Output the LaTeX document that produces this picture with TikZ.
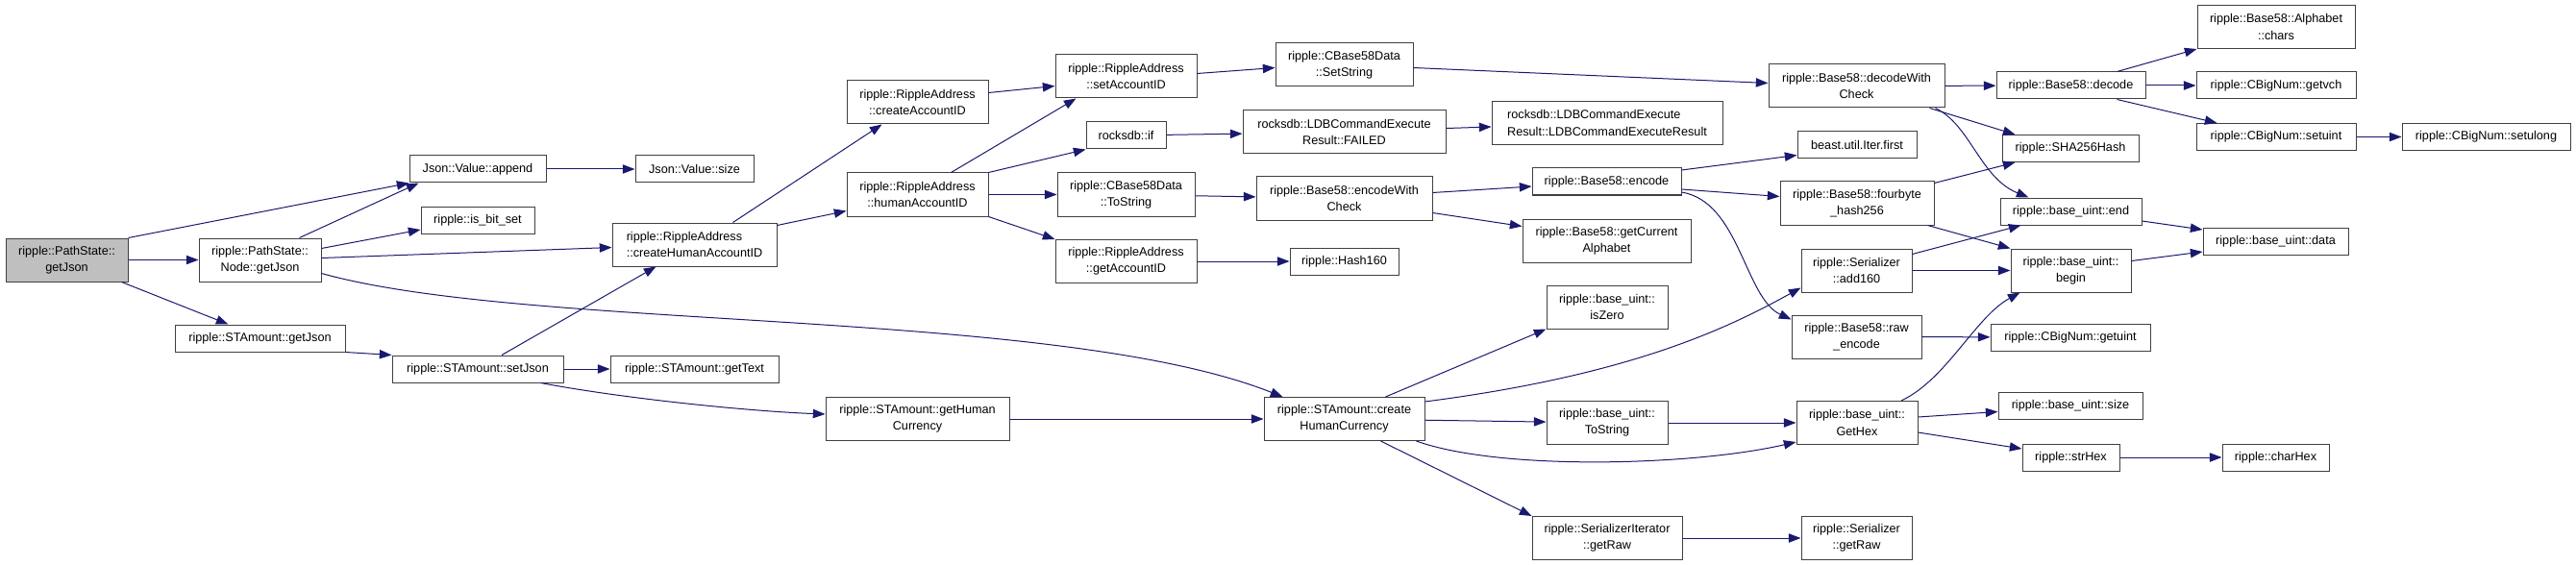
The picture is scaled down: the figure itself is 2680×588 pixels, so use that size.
\documentclass[tikz,border=0pt]{standalone}
\usepackage{fontspec}
\setmainfont{Liberation Sans}
\usetikzlibrary{arrows.meta,calc}
\definecolor{edgeblue}{HTML}{191970}
\definecolor{boxline}{HTML}{404040}
\definecolor{rootfill}{HTML}{BFBFBF}

\begin{document}
\begin{tikzpicture}[
        x=0.75pt, y=-0.75pt,
        fn/.style={draw=boxline, line width=0.75pt, fill=white, inner sep=0pt, align=center,
          font=\fontsize{9.5pt}{13pt}\selectfont, minimum height=28*0.75pt},
        fntwo/.style={fn, minimum height=45*0.75pt},
        wd/.style={minimum width=#1*0.75pt},
        arrow/.style={-{Triangle[length=9.5pt,width=7pt]}, line width=0.75pt, draw=edgeblue}
      ]
        \useasboundingbox (0,0) rectangle (2680,588);
        \node[fntwo, wd=127, fill=rootfill] (root) at (69.5,270.5) {ripple::PathState::\\getJson};
        \node[fntwo, wd=127] (ngj)      at (270.5,270.5) {ripple::PathState::\\Node::getJson};
        \node[fn, wd=177]    (sgj)      at (270.5,352)   {ripple::STAmount::getJson};
        \node[fn, wd=142]    (append)   at (497,176)     {Json::Value::append};
        \node[fn, wd=118]    (isbit)    at (497,229)     {ripple::is\_bit\_set};
        \node[fn, wd=178]    (setjson)  at (497,384)     {ripple::STAmount::setJson};
        \node[fn, wd=123]    (jsize)    at (722.5,176)   {Json::Value::size};
        \node[fntwo, wd=171, align=left] (chaid) at (722.5,254.5) {ripple::RippleAddress\\::createHumanAccountID};
        \node[fn, wd=175]    (gettext)  at (722.5,384)   {ripple::STAmount::getText};
        \node[fntwo, wd=191] (ghc)      at (954.5,436)   {ripple::STAmount::getHuman\\Currency};
        \node[fntwo, wd=147] (cai)      at (954.5,106.5) {ripple::RippleAddress\\::createAccountID};
        \node[fntwo, wd=147] (hai)      at (954.5,202.5) {ripple::RippleAddress\\::humanAccountID};
        \node[fntwo, wd=147] (setaid)   at (1171.5,79.5) {ripple::RippleAddress\\::setAccountID};
        \node[fn, wd=83]     (rif)      at (1171.5,141)  {rocksdb::if};
        \node[fntwo, wd=143] (b58tostr) at (1171.5,202.5) {ripple::CBase58Data\\::ToString};
        \node[fntwo, wd=147] (getaid)   at (1171.5,272)  {ripple::RippleAddress\\::getAccountID};
        \node[fntwo, wd=143] (setstr)   at (1398.5,67.5) {ripple::CBase58Data\\::SetString};
        \node[fntwo, wd=211] (failed)   at (1398.5,137.5) {rocksdb::LDBCommandExecute\\Result::FAILED};
        \node[fntwo, wd=183] (ewc)      at (1398.5,206.5) {ripple::Base58::encodeWith\\Check};
        \node[fn, wd=113]    (h160)     at (1398.5,272)  {ripple::Hash160};
        \node[fntwo, wd=167] (chc)      at (1398.5,436)  {ripple::STAmount::create\\HumanCurrency};
        \node[fntwo, wd=240, align=left] (ldbres) at (1672,128) {rocksdb::LDBCommandExecute\\Result::LDBCommandExecuteResult};
        \node[fn, wd=155]    (enc)      at (1671.5,189)  {ripple::Base58::encode};
        \node[fntwo, wd=175] (gca)      at (1671.5,250.5) {ripple::Base58::getCurrent\\Alphabet};
        \node[fntwo, wd=126] (iszero)   at (1672,319.5)  {ripple::base\_uint::\\isZero};
        \node[fntwo, wd=126] (butostr)  at (1672,440)    {ripple::base\_uint::\\ToString};
        \node[fntwo, wd=156] (sitraw)   at (1672,560)    {ripple::SerializerIterator\\::getRaw};
        \node[fntwo, wd=183] (dwc)      at (1931.5,89.5) {ripple::Base58::decodeWith\\Check};
        \node[fn, wd=124]    (iterfirst) at (1932,150.5) {beast.util.Iter.first};
        \node[fntwo, wd=160] (fourbyte) at (1932,211.5)  {ripple::Base58::fourbyte\\\_hash256};
        \node[fntwo, wd=115] (add160)   at (1931.5,281.5) {ripple::Serializer\\::add160};
        \node[fntwo, wd=135] (rawenc)   at (1931.5,350.5) {ripple::Base58::raw\\\_encode};
        \node[fntwo, wd=126] (gethex)   at (1932,440)    {ripple::base\_uint::\\GetHex};
        \node[fntwo, wd=115] (sgetraw)  at (1931.5,560)  {ripple::Serializer\\::getRaw};
        \node[fn, wd=155]    (decode)   at (2154.5,89)   {ripple::Base58::decode};
        \node[fn, wd=142]    (sha)      at (2154,154.5)  {ripple::SHA256Hash};
        \node[fn, wd=147]    (buend)    at (2154.5,220)  {ripple::base\_uint::end};
        \node[fntwo, wd=125] (bubegin)  at (2154.5,281.5) {ripple::base\_uint::\\begin};
        \node[fn, wd=166]    (getuint)  at (2154,351)    {ripple::CBigNum::getuint};
        \node[fn, wd=150]    (busize)   at (2154,422.5)  {ripple::base\_uint::size};
        \node[fn, wd=101]    (strhex)   at (2154.5,476)  {ripple::strHex};
        \node[fntwo, wd=164] (chars)    at (2368,28)     {ripple::Base58::Alphabet\\::chars};
        \node[fn, wd=166]    (getvch)   at (2368,89)     {ripple::CBigNum::getvch};
        \node[fn, wd=166]    (setuint)  at (2368,142.5)  {ripple::CBigNum::setuint};
        \node[fn, wd=151]    (budata)   at (2367.5,251)  {ripple::base\_uint::data};
        \node[fn, wd=111]    (charhex)  at (2367.5,476)  {ripple::charHex};
        \node[fn, wd=175]    (setulong) at (2586.5,142.5) {ripple::CBigNum::setulong};
        \draw[arrow] (root.north east) -- (append.south west);
        \draw[arrow] (root) -- (ngj);
        \draw[arrow] ($(root.south east)+(-7,0)$) -- ($(sgj.north)+(-33,0)$);
        \draw[arrow] ($(ngj.north)+(41,0)$) -- ($(append.south west)+(10,0)$);
        \draw[arrow] ($(ngj.east)+(0,-12)$) -- ($(isbit.west)+(0,10)$);
        \draw[arrow] ($(ngj.east)+(0,-2)$) -- ($(chaid.west)+(0,3)$);
        \draw[arrow] ($(ngj.east)+(0,14)$) .. controls (550,345) and (1100,320) .. ($(chc.north west)+(20,0)$);
        \draw[arrow] (append) -- (jsize);
        \draw[arrow] (sgj.south east) -- (setjson.north west);
        \draw[arrow] ($(setjson.north)+(25,0)$) -- ($(chaid.south)+(-40,0)$);
        \draw[arrow] (setjson) -- (gettext);
        \draw[arrow] ($(setjson.south east)+(-24,0)$) .. controls (650,415) and (780,428) .. ($(ghc.west)+(0,-5)$);
        \draw[arrow] (ghc) -- (chc);
        \draw[arrow] ($(chaid.north)+(40,0)$) -- ($(cai.south west)+(37,0)$);
        \draw[arrow] ($(chaid.east)+(0,-20)$) -- ($(hai.west)+(0,17)$);
        \draw[arrow] ($(cai.east)+(0,-10)$) -- ($(setaid.west)+(0,10)$);
        \draw[arrow] ($(hai.north)+(35,0)$) -- ($(setaid.south west)+(22,0)$);
        \draw[arrow] (hai.north east) -- (rif.south west);
        \draw[arrow] (hai) -- (b58tostr);
        \draw[arrow] (hai.south east) -- (getaid.north west);
        \draw[arrow] ($(setaid.east)+(0,-3)$) -- ($(setstr.west)+(0,3)$);
        \draw[arrow] (rif) -- (failed);
        \draw[arrow] (b58tostr) -- (ewc);
        \draw[arrow] (getaid) -- (h160);
        \draw[arrow] ($(setstr.east)+(0,3)$) -- ($(dwc.west)+(0,-3)$);
        \draw[arrow] ($(failed.east)+(0,-4)$) -- ($(ldbres.west)+(0,4)$);
        \draw[arrow] ($(ewc.east)+(0,-6)$) -- ($(enc.west)+(0,5)$);
        \draw[arrow] ($(ewc.east)+(0,15)$) -- ($(gca.west)+(0,-15)$);
        \draw[arrow] ($(enc.east)+(0,-12)$) -- ($(iterfirst.west)+(0,11)$);
        \draw[arrow] ($(enc.east)+(0,8)$) -- ($(fourbyte.west)+(0,-7)$);
        \draw[arrow] ($(enc.east)+(0,11)$) .. controls (1810,210) and (1815,310) .. ($(rawenc.north west)+(0,5)$);
        \draw[arrow] (dwc) -- (decode);
        \draw[arrow] ($(dwc.south east)+(-16,0)$) -- ($(sha.north west)+(14,0)$);
        \draw[arrow] ($(dwc.south east)+(-10,0)$) .. controls (2050,130) and (2060,185) .. ($(buend.north west)+(30,0)$);
        \draw[arrow] ($(fourbyte.north east)+(0,2)$) -- ($(sha.south west)+(14,0)$);
        \draw[arrow] ($(fourbyte.south east)+(-7,0)$) -- (bubegin.north west);
        \draw[arrow] ($(add160.north east)+(0,6)$) -- ($(buend.south west)+(22,0)$);
        \draw[arrow] (add160) -- (bubegin);
        \draw[arrow] (rawenc) -- (getuint);
        \draw[arrow] ($(gethex.north)+(46,0)$) .. controls (2025,395) and (2055,330) .. ($(bubegin.south west)+(10,0)$);
        \draw[arrow] ($(gethex.east)+(0,-6)$) -- ($(busize.west)+(0,6)$);
        \draw[arrow] ($(gethex.east)+(0,10)$) -- ($(strhex.west)+(0,-9)$);
        \draw[arrow] (strhex) -- (charhex);
        \draw[arrow] ($(decode.north east)+(-30,0)$) -- (chars.south west);
        \draw[arrow] (decode) -- (getvch);
        \draw[arrow] ($(decode.south east)+(-30,0)$) -- ($(setuint.north west)+(22,0)$);
        \draw[arrow] (setuint) -- (setulong);
        \draw[arrow] ($(buend.east)+(0,10)$) -- ($(budata.west)+(0,-12)$);
        \draw[arrow] ($(bubegin.east)+(0,-10)$) -- ($(budata.west)+(0,11)$);
        \draw[arrow] ($(chc.north)+(43,0)$) -- (iszero.south west);
        \draw[arrow] ($(chc.east)+(0,-18)$) .. controls (1700,390) and (1800,340) .. ($(add160.west)+(0,18)$);
        \draw[arrow] (chc) -- (butostr);
        \draw[arrow] ($(chc.south east)+(-9,0)$) .. controls (1560,490) and (1760,485) .. ($(gethex.south west)+(0,-3)$);
        \draw[arrow] ($(chc.south)+(38,0)$) -- (sitraw.north west);
        \draw[arrow] (butostr) -- (gethex);
        \draw[arrow] (sitraw) -- (sgetraw);
      \end{tikzpicture}
\end{document}
